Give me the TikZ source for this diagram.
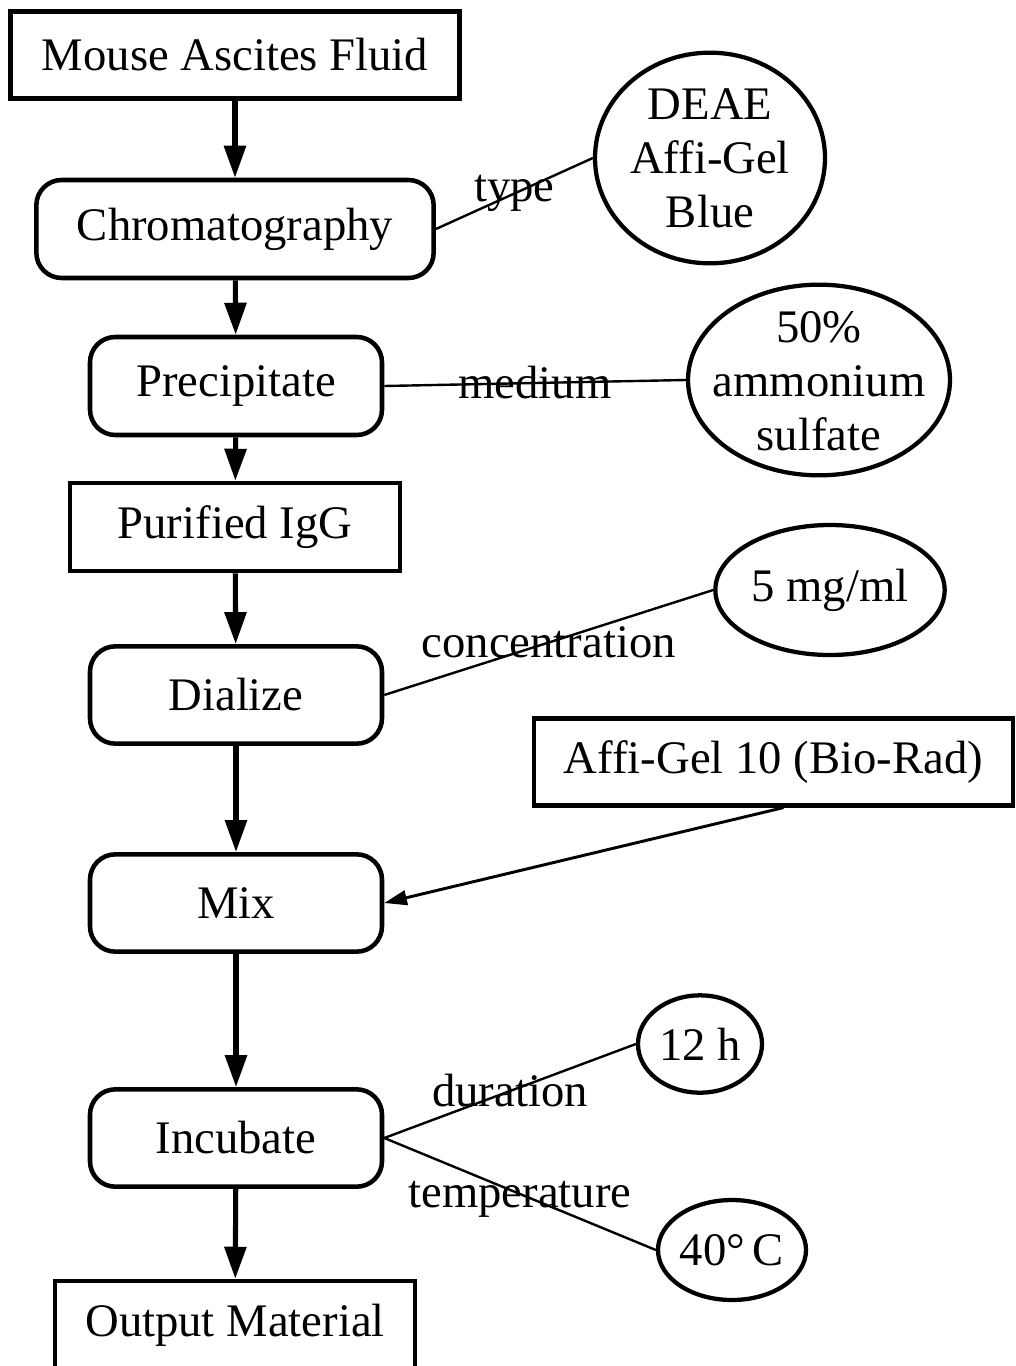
\documentclass[tikz,border=0pt]{standalone}
\usepackage{fontspec}
\setmainfont{Liberation Serif}
\usetikzlibrary{arrows.meta,shapes.geometric}
\begin{document}
\begin{tikzpicture}[x=0.75pt,y=-0.75pt,
  every node/.style={font=\fontsize{35}{40.5}\selectfont, inner sep=0pt, align=center},
  sqbox/.style={draw, line width=3.4pt, rectangle},
  rbox/.style={draw, line width=3.4pt, rectangle, rounded corners=19pt},
  oval/.style={draw, line width=3.2pt, ellipse},
  flow/.style={line width=3.8pt, -{Triangle[length=24pt,width=16pt]}},
  rel/.style={line width=1.8pt},
  lab/.style={font=\fontsize{35}{40.5}\selectfont}
]
\useasboundingbox (0,0) rectangle (1016,1366);
% main chain
\node[sqbox, minimum width=337pt, minimum height=65pt] (mouse) at (235,55) {Mouse Ascites Fluid};
\node[rbox, minimum width=298pt, minimum height=73.5pt] (chrom) at (235,229) {Chromatography};
\node[rbox, minimum width=219pt, minimum height=73.5pt] (prec) at (236,386) {Precipitate};
\node[sqbox, minimum width=247.5pt, minimum height=66pt] (igg) at (235,527) {Purified IgG};
\node[rbox, minimum width=219pt, minimum height=73pt] (dial) at (236,695) {Dialize};
\node[rbox, minimum width=219pt, minimum height=73pt] (mix) at (236,903) {Mix};
\node[rbox, minimum width=219pt, minimum height=73pt] (inc) at (236,1138) {Incubate};
\node[sqbox, minimum width=270pt, minimum height=66pt] (out) at (235,1325) {Output Material};
% side nodes
\node[oval, minimum width=172.5pt, minimum height=158pt,
  label={center:{DEAE\\Affi-Gel\\Blue}}] (deae) at (710,158) {};
\node[oval, minimum width=196.5pt, minimum height=143pt,
  label={[yshift=-1pt]center:{50\%\\ammonium\\sulfate}}] (amm) at (819,380) {};
\node[oval, minimum width=172pt, minimum height=97.5pt,
  label={center:{5 mg/ml}}] (conc) at (830,590) {};
\node[sqbox, minimum width=359pt, minimum height=65pt] (affi) at (773.5,762) {Affi-Gel 10 (Bio-Rad)};
\node[oval, minimum width=93pt, minimum height=73pt,
  label={center:{12 h}}] (h12) at (700,1044) {};
\node[oval, minimum width=111pt, minimum height=75pt,
  label={center:{40°\,C}}] (temp) at (732,1250) {};
% flow arrows
\draw[flow] (mouse) -- (chrom);
\draw[flow] (chrom) -- (prec);
\draw[flow] (prec) -- (igg);
\draw[flow] (igg) -- (dial);
\draw[flow] (dial) -- (mix);
\draw[flow] (mix) -- (inc);
\draw[flow] (inc) -- (out);
% relations
\draw[rel] (chrom.east) -- (deae.west) node[lab, pos=0.5] {type};
\draw[rel] (prec.east) -- (amm.west) node[lab, pos=0.5] {medium};
\draw[rel] (dial.east) -- (conc.west) node[lab, pos=0.5] {concentration};
\draw[line width=2.2pt, -{Triangle[length=17pt,width=11pt]}] ([xshift=7.5pt]affi.south) -- (mix.east);
\draw[rel] (inc.east) -- (h12.west) node[lab, pos=0.5] {duration};
\draw[rel] (inc.east) -- (temp.west) node[lab, pos=0.5, yshift=-4pt] {temperature};
\end{tikzpicture}
\end{document}
